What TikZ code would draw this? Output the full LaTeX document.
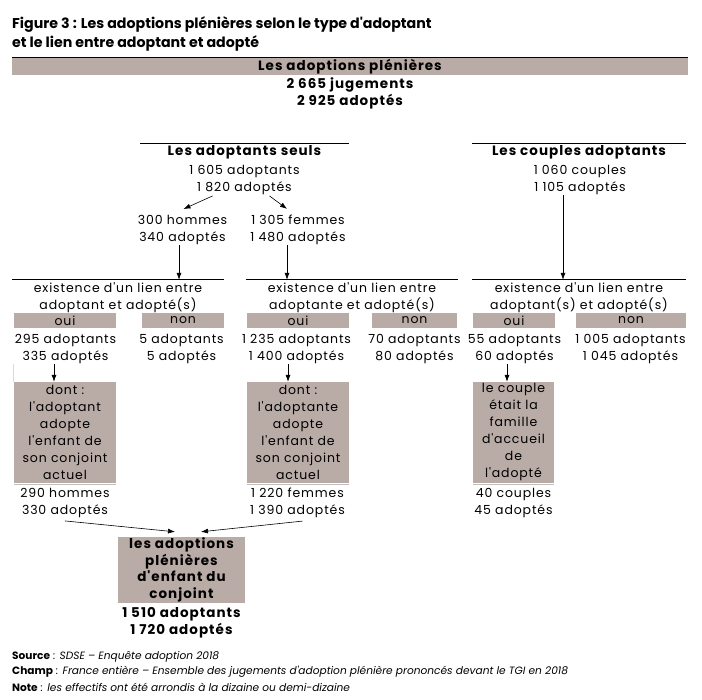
\documentclass[tikz,border=0pt]{standalone}
\usepackage{fontspec}
\setmainfont{Poppins}
\newfontfamily\bodyfont{Poppins}[LetterSpace=7]
\newfontfamily\headfont{Poppins}[LetterSpace=7.5]
\newfontfamily\titlefont{Poppins}
\usetikzlibrary{positioning, calc, arrows.meta}

\definecolor{barbrown}{RGB}{185,171,166}

\tikzset{
  every node/.style = {inner sep=0pt, align=center},
  plain/.style = {font=\bodyfont\fontsize{12.5}{17}\selectfont},
  heavy/.style = {font=\headfont\fontsize{13.5}{17}\selectfont\bfseries},
  shade/.style = {fill=barbrown},
  topline/.style = {line width=1.2pt},
  arr/.style = {-{Latex[length=7pt,width=5pt]}, line width=0.6pt},
  note/.style = {anchor=west, font=\titlefont\fontsize{10.6}{12}\selectfont}
}

\begin{document}
\begin{tikzpicture}[x=1pt, y=-1pt]
  \useasboundingbox (0,0) rectangle (702,700);

  % title
  \node[anchor=west, align=left, font=\titlefont\fontsize{14.2}{19.5}\selectfont\bfseries] (title) at (12,34)
    {Figure 3 : Les adoptions plénières selon le type d'adoptant\\et le lien entre adoptant et adopté};

  % all adoptions
  \node[heavy, shade, minimum width=676pt, minimum height=17pt] (all) at (350,66.5) {Les adoptions plénières};
  \draw[topline] (all.north west) -- (all.north east);
  \node[heavy] (allN) at (350,93.5) {2 665 jugements\\2 925 adoptés};

  % single adopters
  \node[heavy, minimum width=209pt, minimum height=18pt] (seuls) at (244.5,152.5) {Les adoptants seuls};
  \draw[topline] (seuls.north west) -- (seuls.north east);
  \node[plain] (seulsN) at (244.5,180) {1 605 adoptants\\1 820 adoptés};
  \node[plain] (hommes) at (182.5,230) {300 hommes\\340 adoptés};
  \node[plain] (femmes) at (298,230) {1 305 femmes\\1 480 adoptés};
  \draw[arr] ([shift={(-32pt,-1pt)}]seulsN.south) -- ([shift={(1pt,6pt)}]hommes.north);
  \draw[arr] ([shift={(25pt,-1pt)}]seulsN.south) -- ([shift={(-11pt,6pt)}]femmes.north);

  % couples
  \node[heavy, minimum width=214pt, minimum height=18pt] (couples) at (579,152.5) {Les couples adoptants};
  \draw[topline] (couples.north west) -- (couples.north east);
  \node[plain] (couplesN) at (580,180) {1 060 couples\\1 105 adoptés};

  % link between adopter and adoptee
  \node[plain, minimum width=212pt, minimum height=36pt] (lien1) at (118,298) {existence d'un lien entre\\adoptant et adopté(s)};
  \node[plain, minimum width=212pt, minimum height=36pt] (lien2) at (352,298) {existence d'un lien entre\\adoptante et adopté(s)};
  \node[plain, minimum width=214pt, minimum height=36pt] (lien3) at (579,298) {existence d'un lien entre\\adoptant(s) et adopté(s)};
  \foreach \g in {1,2,3}
    \draw[topline] (lien\g.north west) -- (lien\g.north east);

  \draw[arr] (hommes.south -| 179,0) -- (lien1.north -| 179,0);
  \draw[arr] (femmes.south -| 287,0) -- (lien2.north -| 287,0);
  \draw[arr] (couplesN.south -| 563,0) -- (lien3.north -| 563,0);

  % oui / non
  \node[plain, shade, minimum width=102pt, minimum height=15pt] (oui1) at (65,320.5) {oui};
  \node[plain, shade, minimum width=82pt, minimum height=15pt] (non1) at (183,320.5) {non};
  \node[plain, shade, minimum width=102pt, minimum height=15pt] (oui2) at (298,320.5) {oui};
  \node[plain, shade, minimum width=85pt, minimum height=15pt] (non2) at (414.5,320.5) {non};
  \node[plain, shade, minimum width=82pt, minimum height=15pt] (oui3) at (514,320.5) {oui};
  \node[plain, shade, minimum width=110pt, minimum height=15pt] (non3) at (631,320.5) {non};

  \node[plain] (n1) at (65.5,349) {295 adoptants\\335 adoptés};
  \node[plain] (m1) at (181.5,349) {5 adoptants\\5 adoptés};
  \node[plain] (n2) at (296.5,349) {1 235 adoptants\\1 400 adoptés};
  \node[plain] (m2) at (414.5,349) {70 adoptants\\80 adoptés};
  \node[plain] (n3) at (514.5,349) {55 adoptants\\60 adoptés};
  \node[plain] (m3) at (630.5,349) {1 005 adoptants\\1 045 adoptés};

  % details of "oui"
  \node[plain, shade, minimum width=102pt, minimum height=101pt] (dont1) at (65,432.5)
    {dont :\\l'adoptant\\adopte\\l'enfant de\\son conjoint\\actuel};
  \node[plain, shade, minimum width=102pt, minimum height=101pt] (dont2) at (298,432.5)
    {dont :\\l'adoptante\\adopte\\l'enfant de\\son conjoint\\actuel};
  \node[plain, shade, minimum width=81pt, minimum height=101pt] (accueil) at (513.5,432.5)
    {le couple\\était la\\famille\\d'accueil\\de\\l'adopté};
  \foreach \b in {dont1, dont2, accueil}
    \draw[black!25] ([yshift=-1.5pt]\b.south west) -- ([yshift=-1.5pt]\b.south east);
  \draw[black!15] ([shift={(-1pt,18pt)}]dont1.north west) -- ([xshift=-1pt]dont1.north west);

  \draw[arr] (n1.south -| 54,0) -- (dont1.north -| 54,0);
  \draw[arr] (n2.south -| 288,0) -- (dont2.north -| 288,0);
  \draw[arr] (n3.south -| 507,0) -- (accueil.north -| 507,0);

  \node[plain] (h1) at (65,503) {290 hommes\\330 adoptés};
  \node[plain] (h2) at (297.5,503) {1 220 femmes\\1 390 adoptés};
  \node[plain] (h3) at (513.5,503) {40 couples\\45 adoptés};

  % spouse's child
  \node[heavy, shade, minimum width=127pt, minimum height=66pt, font=\headfont\fontsize{13.5}{16.5}\selectfont\bfseries] (fin) at (181.5,570)
    {les adoptions\\plénières\\d'enfant du\\conjoint};
  \node[heavy] (finN) at (181.5,622.5) {1 510 adoptants\\1 720 adoptés};
  \draw[arr] ([yshift=-3pt]h1.south) -- ([shift={(-6.5pt,5pt)}]fin.north);
  \draw[arr] ([shift={(5pt,-3pt)}]h2.south) -- ([shift={(19.5pt,5pt)}]fin.north);

  % notes
  \node[note] (src) at (12,657) {{\bfseries Source}\itshape{} : SDSE – Enquête adoption 2018};
  \node[note] (champ) at (12,672) {{\bfseries Champ}\itshape{} : France entière – Ensemble des jugements d'adoption plénière prononcés devant le TGI en 2018};
  \node[note] (note) at (12,687) {{\bfseries Note}\itshape{} : les effectifs ont été arrondis à la dizaine ou demi-dizaine};
\end{tikzpicture}
\end{document}
